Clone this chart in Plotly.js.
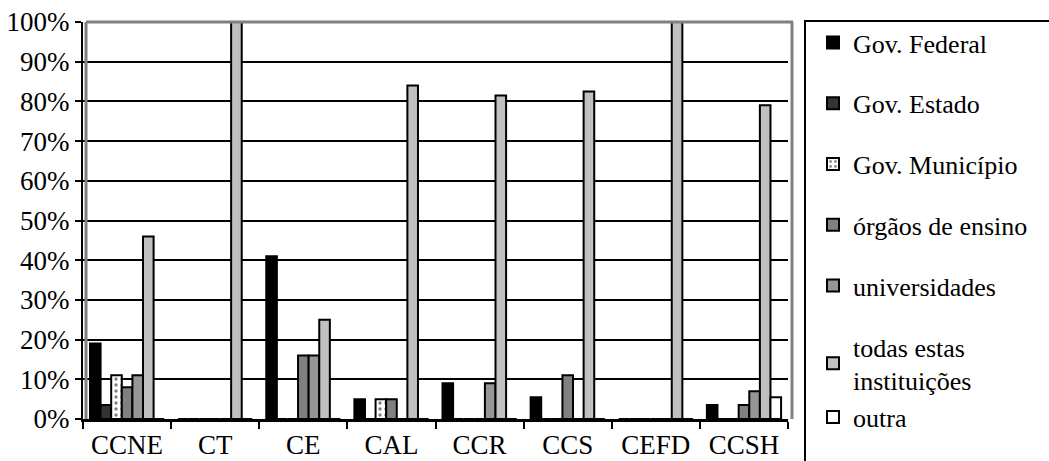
<!DOCTYPE html>
<html>
<head>
<meta charset="utf-8">
<script src="https://cdn.plot.ly/plotly-3.0.1.min.js"></script>
<style>html,body{margin:0;padding:0;background:#fff;}#chart{width:1049px;height:461px;}</style>
</head>
<body>
<div id="chart"></div>
<script>
const categories = ['CCNE','CT','CE','CAL','CCR','CCS','CEFD','CCSH'];
const seriesNames = ['Gov. Federal','Gov. Estado','Gov. Município','órgãos de ensino','universidades','todas estas<br>instituições','outra'];
const govFederal    = [0.19, 0, 0.41, 0.05, 0.09, 0.055, 0, 0.035];
const govEstado     = [0.035, 0, 0, 0, 0, 0, 0, 0];
const govMunicipio  = [0.11, 0, 0, 0.05, 0, 0, 0, 0];
const orgaosEnsino  = [0.08, 0, 0.16, 0.05, 0, 0.11, 0, 0.035];
const universidades = [0.11, 0, 0.16, 0, 0.09, 0, 0, 0.07];
const todasEstas    = [0.46, 1.0, 0.25, 0.84, 0.815, 0.825, 1.0, 0.79];
const outra         = [0, 0, 0, 0, 0, 0, 0, 0.055];
const yTickVals = [0,0.1,0.2,0.3,0.4,0.5,0.6,0.7,0.8,0.9,1.0];
const yTickText = ['0%','10%','20%','30%','40%','50%','60%','70%','80%','90%','100%'];

const seriesValues = [govFederal, govEstado, govMunicipio, orgaosEnsino, universidades, todasEstas, outra];
const colors = ['#000000','#333333','#ffffff','#808080','#969696','#c0c0c0','#ffffff'];
const groups = ['g0','g1','g2','g3','g4','g5','g5'];

const FONT = 'Liberation Serif';
const FS = 27;
const FSL = 26;
const L = 83, R = 788, T = 22, B = 419, W = 1049, H = 461;
const catPx = (R - L) / categories.length;
const barPx = 10.6;

const traces = seriesValues.map((vals, i) => {
  const tr = {
    type: 'bar',
    name: seriesNames[i],
    x: categories,
    y: vals,
    width: barPx / catPx,
    offset: -0.5 + (7 + barPx * i) / catPx,
    legendgroup: groups[i],
    marker: {color: colors[i], line: {color: '#000', width: 2}},
    hoverinfo: 'skip'
  };
  if (i === 2) {
    tr.marker.pattern = {shape: '.', bgcolor: '#ffffff', fgcolor: '#000000', size: 6, solidity: 0.25, fillmode: 'overlay'};
  }
  return tr;
});

const px2x = p => (p - L) / (R - L);
const px2y = p => (B - p) / (B - T);

const layout = {
  width: W, height: H,
  margin: {l: L, r: W - R, t: T, b: H - B, pad: 0},
  paper_bgcolor: '#fff', plot_bgcolor: '#fff',
  font: {family: FONT, size: FS, color: '#000'},
  barmode: 'group',
  showlegend: true,
  xaxis: {
    type: 'category',
    tickson: 'boundaries',
    ticks: 'outside', ticklen: 7, tickwidth: 2, tickcolor: '#000',
    showline: true, linecolor: '#000', linewidth: 3,
    showgrid: false, zeroline: false,
    tickfont: {family: FONT, size: FS, color: '#000'},
    fixedrange: true
  },
  yaxis: {
    range: [0, 1],
    tickvals: yTickVals, ticktext: yTickText,
    ticks: 'outside', ticklen: 6, tickwidth: 2, tickcolor: '#000',
    showline: true, linecolor: '#000', linewidth: 2,
    showgrid: true, gridcolor: '#000', gridwidth: 2,
    zeroline: false,
    tickfont: {family: FONT, size: FS, color: '#000'},
    fixedrange: true
  },
  legend: {
    x: px2x(813), y: px2y(19), xanchor: 'left', yanchor: 'top',
    traceorder: 'grouped', tracegroupgap: 24,
    maxheight: 455,
    bgcolor: 'rgba(0,0,0,0)', borderwidth: 0,
    font: {family: FONT, size: FSL, color: '#000'},
    itemclick: false, itemdoubleclick: false
  },
  shapes: [
    {type: 'line', xref: 'paper', yref: 'paper', x0: px2x(86), x1: px2x(86), y0: 0, y1: 1, line: {color: '#808080', width: 3}, layer: 'above'},
    {type: 'line', xref: 'paper', yref: 'paper', x0: px2x(86), x1: px2x(793), y0: 1, y1: 1, line: {color: '#808080', width: 3}, layer: 'above'},
    {type: 'line', xref: 'paper', yref: 'paper', x0: px2x(792), x1: px2x(792), y0: 0, y1: 1, line: {color: '#808080', width: 3}, layer: 'above'},
    {type: 'rect', xref: 'paper', yref: 'paper', x0: px2x(805), x1: px2x(1065), y0: px2y(480), y1: px2y(21), line: {color: '#000', width: 2}, fillcolor: 'rgba(0,0,0,0)', layer: 'above'}
  ]
};

Plotly.newPlot('chart', traces, layout, {staticPlot: true, displayModeBar: false});
</script>
</body>
</html>
